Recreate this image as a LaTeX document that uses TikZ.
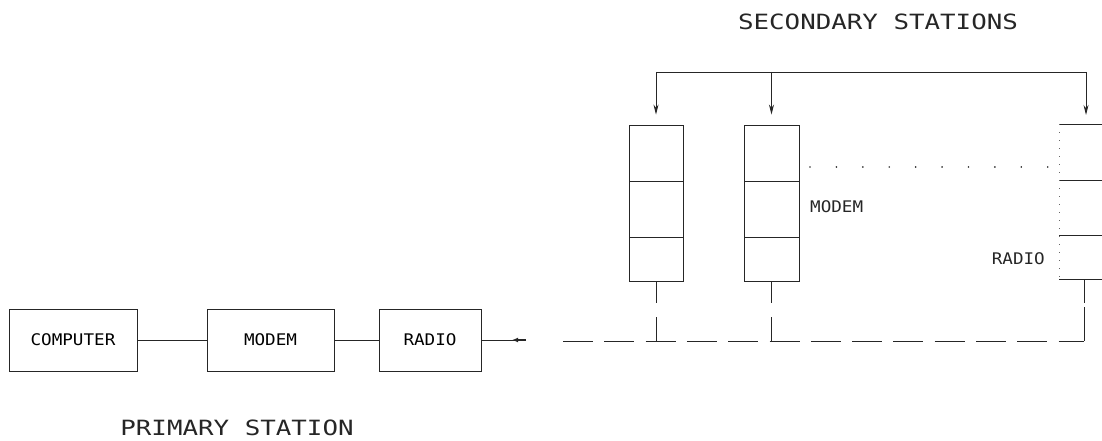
\documentclass[tikz,border=0pt]{standalone}
\usepackage{fontspec}
\newfontfamily\plotfont{DejaVu Sans Mono}
\usetikzlibrary{arrows.meta}
\newcommand{\smalllbl}[1]{\scalebox{1.1}[1]{\plotfont\fontsize{16}{16}\selectfont #1}}
\newcommand{\biglbl}[1]{\scalebox{1.23}[1]{\plotfont\fontsize{21}{21}\selectfont #1}}
\begin{document}
\begin{tikzpicture}[x=1pt,y=-1pt,
  ln/.style={line width=0.9pt, draw=black!85},
  blk/.style={ln, rectangle, inner sep=0pt},
  sec/.style={blk, minimum width=54pt},
  arr/.style={ln, -{Stealth[length=10pt,width=5pt]}},
  lbl/.style={inner sep=0pt, text=black!85}]
\useasboundingbox (0,0) rectangle (1102,441);

% primary station
\node[blk, minimum width=128pt, minimum height=62pt] (comp) at (73,340) {\smalllbl{COMPUTER}};
\node[blk, minimum width=127pt, minimum height=62pt] (pmod) at (270.5,340) {\smalllbl{MODEM}};
\node[blk, minimum width=102pt, minimum height=62pt] (prad) at (430,340) {\smalllbl{RADIO}};
\coordinate (atail) at (526,340);
\draw[ln] (comp) -- (pmod);
\draw[ln] (pmod) -- (prad);
\draw[ln] (prad) -- (atail);
\draw[line width=1.6pt, draw=black!85, -{Latex[length=6pt,width=5pt]}] (atail) -- ++(-14,0);
\node[lbl] (ptitle) at (237,428) {\biglbl{PRIMARY STATION}};

% secondary stations
\node[lbl] (stitle) at (878,22) {\biglbl{SECONDARY STATIONS}};

\node[sec, minimum height=56pt] (s1c) at (656,153) {};
\node[sec, minimum height=56pt] (s1m) at (656,209) {};
\node[sec, minimum height=44pt] (s1r) at (656,259) {};
\node[sec, minimum width=55pt, minimum height=56pt] (s2c) at (771.5,153) {};
\node[sec, minimum width=55pt, minimum height=56pt] (s2m) at (771.5,209) {};
\node[sec, minimum width=55pt, minimum height=44pt] (s2r) at (771.5,259) {};

% third (partly visible) station
\coordinate (s3tl) at (1059,124);
\coordinate (s3bl) at (1059,279);
\draw[ln] (s3tl) -- (1102,124);
\draw[ln] (1059,180) -- (1102,180);
\draw[ln] (1059,235) -- (1102,235);
\draw[ln] (s3bl) -- (1102,279);
\draw[line width=0.8pt, draw=black!60, dash pattern=on 1pt off 7pt] (s3tl) -- (s3bl);
\coordinate (s3s) at (1084,279);

% bus at top
\coordinate (b1) at (656,72);
\coordinate (b2) at (771.5,72);
\coordinate (b3) at (1086,72);
\draw[ln] (b1) -- (b3);
\draw[arr] (b1) -- ([yshift=10pt]s1c.north);
\draw[arr] (b2) -- ([yshift=10pt]s2c.north);
\draw[arr] (b3) -- (1086,115);

% dotted line between stations
\draw[line width=1.8pt, draw=black!80, line cap=round, dash pattern=on 0.01pt off 26.4pt] (810,167) -- (1049,167);

\node[lbl, anchor=west] (smod) at (810,207) {\smalllbl{MODEM}};
\node[lbl, anchor=east] (srad) at (1045,259) {\smalllbl{RADIO}};

% stubs to radio link
\draw[ln] (s1r.south) -- ++(0,22);
\draw[ln] (656,317) -- (656,341);
\draw[ln] (s2r.south) -- ++(0,22);
\draw[ln] (771.5,317) -- (771.5,341);
\draw[ln] (s3s) -- ++(0,24);
\draw[ln] (1084,307) -- (1084,341);

% dashed radio link
\draw[ln, dash pattern=on 30pt off 11.3pt] (563,341) -- (1084,341);
\end{tikzpicture}
\end{document}
